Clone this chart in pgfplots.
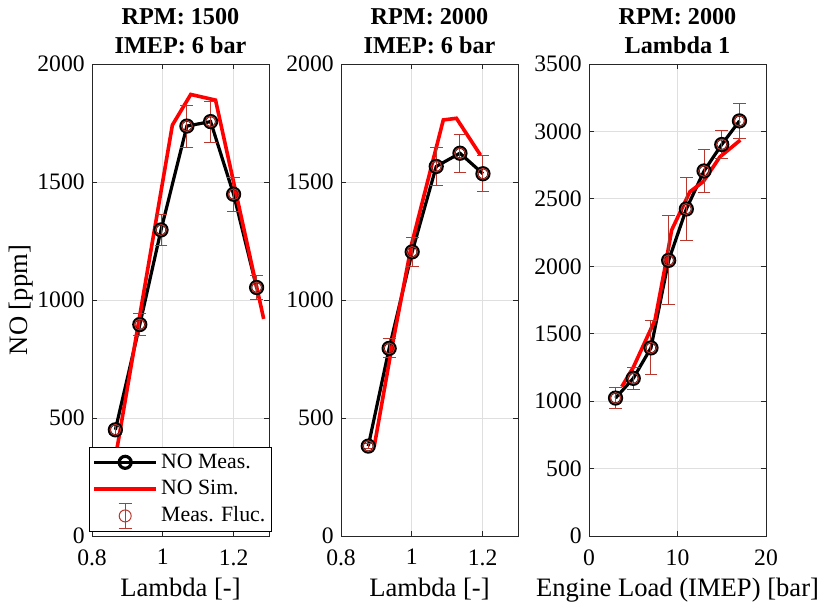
\documentclass[border=0pt]{standalone}
\usepackage{fontspec}
\setmainfont{Liberation Serif}
\usepackage{pgfplots}
\usepackage{pgfplotstable}
\pgfplotsset{compat=1.18}
\definecolor{fluc}{RGB}{185,55,45}
\definecolor{axgray}{RGB}{38,38,38}
\definecolor{gridgray}{RGB}{223,223,223}

\pgfplotstableread{
x y e
0.866 450 20
0.935 896 47
0.995 1297 66
1.068 1737 89
1.135 1756 87
1.200 1448 72
1.265 1053 51
}\measA
\pgfplotstableread{
x y
0.866 330
1.027 1741
1.079 1871
1.149 1847
1.285 920
}\simA
\pgfplotstableread{
x y e
0.877 381 12
0.936 795 40
1.001 1204 60
1.069 1566 79
1.136 1622 80
1.201 1535 76
}\measB
\pgfplotstableread{
x y
0.894 381
0.940 770
1.000 1240
1.089 1763
1.126 1770
1.194 1614
}\simB
\pgfplotstableread{
x y e
3 1023 77
5 1169 79
7 1395 201
9 2044 331
11 2425 235
13 2707 161
15 2903 102
17 3078 130
}\measC
\pgfplotstableread{
x y
3.7 1107
5.0 1250
7.46 1602
8.6 1997
9.34 2269
11.4 2553
12.9 2627
14.8 2812
17.1 2936
}\simC

\pgfplotsset{
  myaxis/.style={
    scale only axis, width=88.5pt, height=236pt,
    anchor=south west,
    axis line style={axgray, line width=0.4pt},
    tick style={axgray, line width=0.4pt},
    major tick length=2.5pt,
    tick align=inside,
    grid=major,
    major grid style={gridgray, line width=0.4pt},
    /pgf/number format/assume math mode=true,
    /pgf/number format/1000 sep={},
    tick label style={font=\fontsize{11.8}{12}\selectfont, text=black},
    xticklabel style={inner sep=0pt, yshift=-6.5pt},
    yticklabel style={inner sep=0pt, xshift=-3.5pt},
    label style={font=\fontsize{13.3}{14}\selectfont},
    xlabel style={at={(axis description cs:0.5,-0.1292)}, anchor=base, inner sep=0pt},
    title style={font=\bfseries\fontsize{12.1}{14.5}\selectfont, align=center, at={(axis description cs:0.5,1)}, anchor=south, inner sep=0pt, yshift=-1pt},
  },
  meas/.style={black, line width=1.6pt, mark=o, mark size=3pt, mark options={line width=1.6pt},
    legend image code/.code={\draw[mark repeat=2,mark phase=2] plot coordinates {(0pt,0pt) (15.5pt,0pt) (31pt,0pt)};}},
  sim/.style={red, line width=1.8pt, no marks,
    legend image code/.code={\draw (0pt,0pt) -- (31pt,0pt);}},
  flucs/.style={fluc, only marks, mark=o, mark size=2.7pt, mark options={line width=0.5pt},
    error bars/y dir=both, error bars/y explicit,
    error bars/error bar style={line width=0.5pt},
    error bars/error mark options={rotate=90, mark size=3.2pt, line width=0.5pt},
    legend image code/.code={
    \draw[fluc, line width=0.5pt] (15.5pt,-6.25pt) -- (15.5pt,6.25pt);
    \draw[fluc, line width=0.5pt] (12.25pt,-6.25pt) -- (18.75pt,-6.25pt);
    \draw[fluc, line width=0.5pt] (12.25pt,6.25pt) -- (18.75pt,6.25pt);
    \draw[fluc, line width=0.5pt] (15.5pt,0pt) circle (3pt);}},
}

\begin{document}
\begin{tikzpicture}
\begin{axis}[myaxis, at={(46pt,-268pt)},
  xmin=0.8, xmax=1.3, ymin=0, ymax=2000,
  xtick={0.8,1,1.2}, ytick={0,500,1000,1500,2000},
  title={RPM: 1500\\IMEP: 6 bar},
  xlabel={Lambda [-]}, ylabel={NO [ppm]},
  ylabel style={at={(axis description cs:-0.367,0.5)}, anchor=base, inner sep=0pt},
  legend style={at={(axis description cs:-0.017,0.0085)}, anchor=south west,
    draw=black, line width=0.4pt, fill=white,
    font=\fontsize{10.9}{12}\selectfont,
    inner xsep=1.5pt, inner ysep=1pt, row sep=0pt,
    nodes={inner xsep=1.6pt, inner ysep=2.3pt}, cells={anchor=west}},
  legend cell align=left,
]
\addplot[meas] table[x=x,y=y] {\measA};
\addlegendentry{NO Meas.}
\addplot[sim] table[x=x,y=y] {\simA};
\addlegendentry{NO Sim.}
\addplot[flucs] table[x=x,y=y,y error=e] {\measA};
\addlegendentry{Meas. Fluc.}
\end{axis}

\begin{axis}[myaxis, at={(170.5pt,-268pt)},
  xmin=0.8, xmax=1.3, ymin=0, ymax=2000,
  xtick={0.8,1,1.2}, ytick={0,500,1000,1500,2000},
  title={RPM: 2000\\IMEP: 6 bar},
  xlabel={Lambda [-]},
]
\addplot[meas] table[x=x,y=y] {\measB};
\addplot[sim] table[x=x,y=y] {\simB};
\addplot[flucs] table[x=x,y=y,y error=e] {\measB};
\end{axis}

\begin{axis}[myaxis, at={(294.5pt,-268pt)},
  xmin=0, xmax=20, ymin=0, ymax=3500,
  xtick={0,10,20}, ytick={0,500,1000,1500,2000,2500,3000,3500},
  title={RPM: 2000\\Lambda 1},
  xlabel={Engine Load (IMEP) [bar]},
]
\addplot[meas] table[x=x,y=y] {\measC};
\addplot[sim] table[x=x,y=y] {\simC};
\addplot[flucs] table[x=x,y=y,y error=e] {\measC};
\end{axis}
\pgfresetboundingbox
\useasboundingbox (0pt,0pt) rectangle (412.5pt,-303pt);
\end{tikzpicture}
\end{document}
